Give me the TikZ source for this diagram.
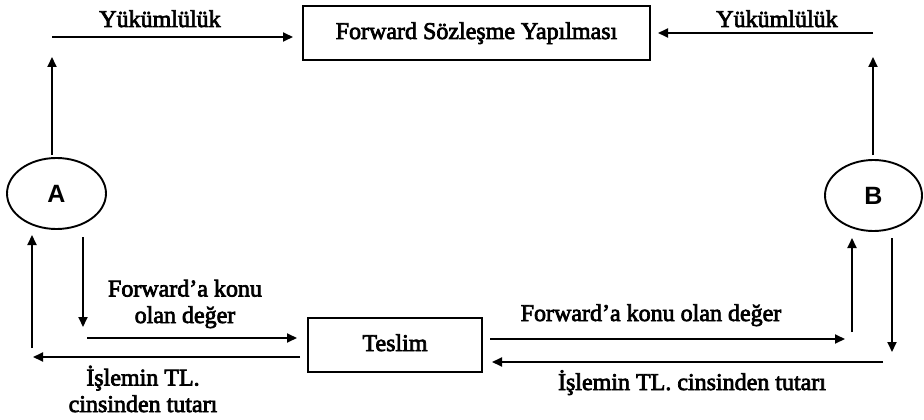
\documentclass[tikz,border=0pt]{standalone}
\usepackage{fontspec}
\setmainfont{Liberation Serif}
\newfontfamily\heavyserif{Liberation Serif}[FakeBold=3]
\newfontfamily\lsans{Liberation Sans}
\usetikzlibrary{arrows.meta,shapes.geometric}
\begin{document}
\begin{tikzpicture}[x=1pt,y=-1pt,
  font=\heavyserif\fontsize{24}{26.5}\selectfont,
  conn/.style={line width=1.9pt,-{Triangle[length=10pt,width=9pt]}},
  boxnode/.style={draw,line width=2.5pt,inner sep=0pt,text height=16pt,text depth=4pt},
  party/.style={draw,ellipse,line width=1.9pt,inner sep=0pt,font=\lsans\bfseries\fontsize{25}{28}\selectfont},
  lbl/.style={anchor=base,inner sep=0pt,align=center}]
\useasboundingbox (0,0) rectangle (924,420);
% nodes
\node[boxnode,minimum width=347pt,minimum height=54pt] (top) at (476.5,33) {Forward Sözleşme Yapılması};
\node[boxnode,minimum width=174pt,minimum height=54pt] (teslim) at (395,345) {Teslim};
\node[party,minimum width=99pt,minimum height=71pt] (A) at (56.5,193.5) {A};
\node[party,minimum width=97pt,minimum height=71pt] (B) at (873.5,195.5) {B};
% coordinates
\coordinate (tlS) at (52,37);   \coordinate (tlE) at (293,37);
\coordinate (avS) at (52,155);  \coordinate (avE) at (52,57);
\coordinate (trS) at (873,33);  \coordinate (trE) at (658,33);
\coordinate (bvS) at (873,155); \coordinate (bvE) at (873,57);
\coordinate (aupS) at (32,348); \coordinate (aupE) at (32,235);
\coordinate (adnS) at (83,237); \coordinate (adnE) at (83,327);
\coordinate (lrS) at (87,338);  \coordinate (lrE) at (297,338);
\coordinate (llS) at (300,357); \coordinate (llE) at (33,357);
\coordinate (rrS) at (490,339); \coordinate (rrE) at (845,339);
\coordinate (rlS) at (883,362); \coordinate (rlE) at (492,362);
\coordinate (bupS) at (852,332); \coordinate (bupE) at (852,238);
\coordinate (bdnS) at (892,238); \coordinate (bdnE) at (892,352);
% connectors
\draw[conn] (tlS) -- (tlE);
\draw[conn] (avS) -- (avE);
\draw[conn] (trS) -- (trE);
\draw[conn] (bvS) -- (bvE);
\draw[conn] (aupS) -- (aupE);
\draw[conn] (adnS) -- (adnE);
\draw[conn] (lrS) -- (lrE);
\draw[conn] (llS) -- (llE);
\draw[conn] (rrS) -- (rrE);
\draw[conn] (rlS) -- (rlE);
\draw[conn] (bupS) -- (bupE);
\draw[conn] (bdnS) -- (bdnE);
% labels (base = baseline of last line)
\node[lbl] (l1) at (160,27) {Yükümlülük};
\node[lbl] (l2) at (777,27) {Yükümlülük};
\node[lbl] (l3) at (185,323) {Forward’a konu\\olan değer};
\node[lbl] (l4) at (143,412) {İşlemin TL.\\cinsinden tutarı};
\node[lbl] (l5) at (651,321) {Forward’a konu olan değer};
\node[lbl] (l6) at (692,390) {İşlemin TL. cinsinden tutarı};
\end{tikzpicture}
\end{document}
